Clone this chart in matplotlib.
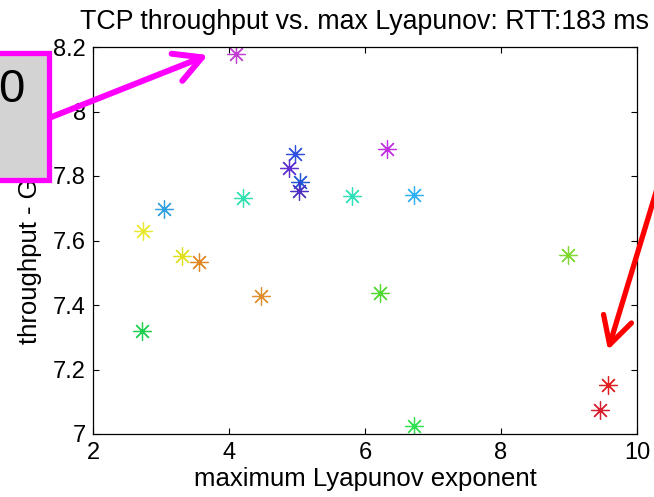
import matplotlib
matplotlib.use('Agg')
import matplotlib.pyplot as plt
from matplotlib.patches import Rectangle

plt.rcParams['font.family'] = ['Liberation Sans', 'DejaVu Sans']

# max Lyapunov exponent vs throughput (Gbps), one point per run
lyap = [4.10, 4.97, 4.88, 5.04, 5.03, 6.32, 3.04, 4.21, 5.81, 6.72,
        2.74, 3.31, 3.56, 4.47, 2.72, 6.22, 8.99, 6.72, 9.57, 9.46]
thru = [8.178, 7.868, 7.825, 7.780, 7.753, 7.884, 7.698, 7.732, 7.738, 7.741,
        7.630, 7.552, 7.533, 7.428, 7.320, 7.437, 7.555, 7.025, 7.152, 7.074]
colors = ['#c040d0', '#3050e0', '#6030d0', '#2058d8', '#5030c0', '#c030e0',
          '#30a0e0', '#30e0b0', '#30e0b8', '#30b0f0',
          '#e8e830', '#e0e020', '#e08828', '#e09030', '#20d050', '#50d830',
          '#80d830', '#30e050', '#e02020', '#d82030']

xticks = [2, 4, 6, 8, 10]
yticks = [7, 7.2, 7.4, 7.6, 7.8, 8, 8.2]
ytick_labels = ['7', '7.2', '7.4', '7.6', '7.8', '8', '8.2']

fig = plt.figure(figsize=(6.54, 4.97), dpi=100)
ax = fig.add_axes([93/654, 1-434/497, 544/654, 387/497])

for x, y, c in zip(lyap, thru, colors):
    ax.plot(x, y, linestyle='none', marker=(8, 2, 0), markersize=13,
            markeredgewidth=0.9, color=c)

ax.set_xlim(2, 10)
ax.set_ylim(7, 8.2)
ax.set_xticks(xticks)
ax.set_yticks(yticks)
ax.set_yticklabels(ytick_labels)
ax.tick_params(direction='in', length=4, top=True, right=True, labelsize=17)
ax.tick_params(axis='x', pad=6)
ax.tick_params(axis='y', pad=5)
for s in ax.spines.values():
    s.set_linewidth(0.9)

ax.set_title('TCP throughput vs. max Lyapunov: RTT:183 ms', fontsize=19.3, pad=13)
ax.set_xlabel('maximum Lyapunov exponent', fontsize=18.5)
ax.xaxis.set_label_coords(0.5, -0.084)
ax.set_ylabel('throughput - Gbps', fontsize=18.5)
ax.yaxis.set_label_coords(-0.094, 0.5)

# overlay annotations from the slide
box = Rectangle((-10/654, 1-180/497), 59/654, 127/497, transform=fig.transFigure,
                facecolor='#d3d3d3', edgecolor='#ff00ff', linewidth=3.8,
                clip_on=False, zorder=10)
fig.add_artist(box)
fig.text(11/654, 1-90/497, '0', fontsize=34, ha='center', va='center', zorder=11)

ax.annotate('', xy=(208, 497-55), xytext=(49, 497-118),
            xycoords='figure pixels', textcoords='figure pixels',
            arrowprops=dict(arrowstyle='->,head_length=1.3,head_width=0.7',
                            color='#ff00ff', lw=4.3, shrinkA=0, shrinkB=0,
                            mutation_scale=15),
            annotation_clip=False, zorder=12)
ax.annotate('', xy=(608, 497-350), xytext=(684, 497-100),
            xycoords='figure pixels', textcoords='figure pixels',
            arrowprops=dict(arrowstyle='->,head_length=1.3,head_width=0.7',
                            color='#ff0000', lw=3.8, shrinkA=0, shrinkB=0,
                            mutation_scale=15),
            annotation_clip=False, zorder=12)

fig.savefig('out.png', dpi=100)
